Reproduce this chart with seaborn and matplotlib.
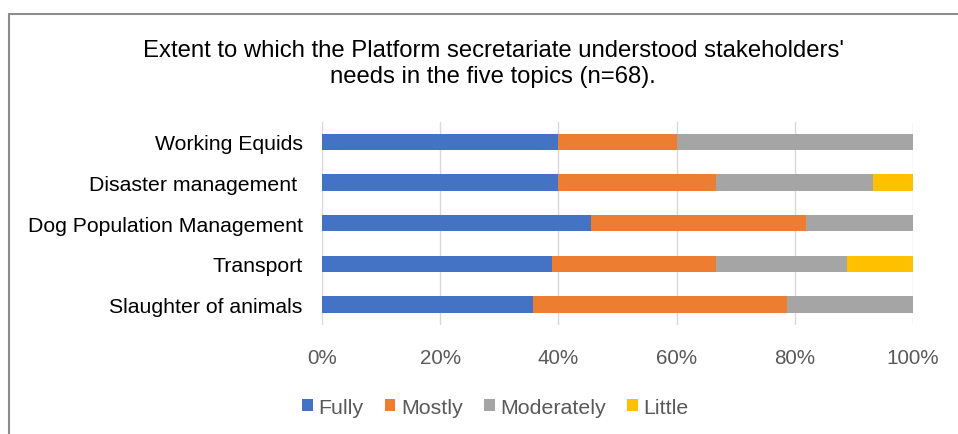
import numpy as np
import pandas as pd
import matplotlib
matplotlib.use("Agg")
import matplotlib.pyplot as plt
from matplotlib.patches import Patch, Rectangle
import seaborn as sns

# Survey topics, top to bottom
topics = ["Working Equids", "Disaster management ", "Dog Population Management",
          "Transport", "Slaughter of animals"]

# Share of respondents per answer (%)
fully = [40.0, 40.0, 45.5, 38.9, 35.7]
mostly = [20.0, 26.7, 36.4, 27.8, 42.9]
moderately = [40.0, 26.6, 18.1, 22.2, 21.4]
little = [0.0, 6.7, 0.0, 11.1, 0.0]

levels = ["Fully", "Mostly", "Moderately", "Little"]
colors = ["#4472C4", "#ED7D31", "#A5A5A5", "#FFC000"]
xticks = [0, 20, 40, 60, 80, 100]
xtick_labels = ["0%", "20%", "40%", "60%", "80%", "100%"]

title = ("Extent to which the Platform secretariate understood stakeholders'\n"
         "needs in the five topics (n=68).")

sns.set_theme(style="white")
plt.rcParams["font.family"] = ["Liberation Sans", "DejaVu Sans"]

df = pd.DataFrame({"topic": topics, "Fully": fully, "Mostly": mostly,
                   "Moderately": moderately, "Little": little})
cum = df[levels].cumsum(axis=1)

fig = plt.figure(figsize=(9.58, 4.35), dpi=100)
ax = fig.add_axes([0.3361, 0.251, 0.953 - 0.3361, 0.718 - 0.251])

# Stacked bars: draw cumulative totals from the outermost segment inward
for level, color in reversed(list(zip(levels, colors))):
    sns.barplot(x=cum[level], y=df["topic"], orient="h", color=color,
                width=0.4, ax=ax, linewidth=0, saturation=1)

ax.set_xlim(0, 100)
ax.set_xticks(xticks)
ax.set_xticklabels(xtick_labels)
ax.set_xlabel("")
ax.set_ylabel("")
ax.grid(axis="x", color="#D9D9D9", linewidth=1.0)
ax.set_axisbelow(True)
for s in ax.spines.values():
    s.set_visible(False)
ax.tick_params(axis="x", length=0, pad=17, labelsize=14.9, labelcolor="#595959")
ax.tick_params(axis="y", length=0, pad=14, labelsize=15.3, labelcolor="#000000")

fig.text(0.515, 0.907, title, ha="center", va="top", fontsize=17.2,
         color="#000000", linespacing=1.2)

handles = [Patch(facecolor=c, edgecolor="none", label=l) for l, c in zip(levels, colors)]
fig.legend(handles=handles, loc="center", bbox_to_anchor=(0.517, 0.062), ncol=4,
           frameon=False, fontsize=15.4, handlelength=0.5, handleheight=0.5,
           handletextpad=0.25, columnspacing=1.0, labelcolor="#595959")

# Chart frame
fig.patches.append(Rectangle((8.5 / 958, -0.1), 1.2, 1.1 - 14.5 / 435,
                             transform=fig.transFigure, fill=False,
                             edgecolor="#8C8C8C", linewidth=1.5))

fig.savefig("out.png", dpi=100)
